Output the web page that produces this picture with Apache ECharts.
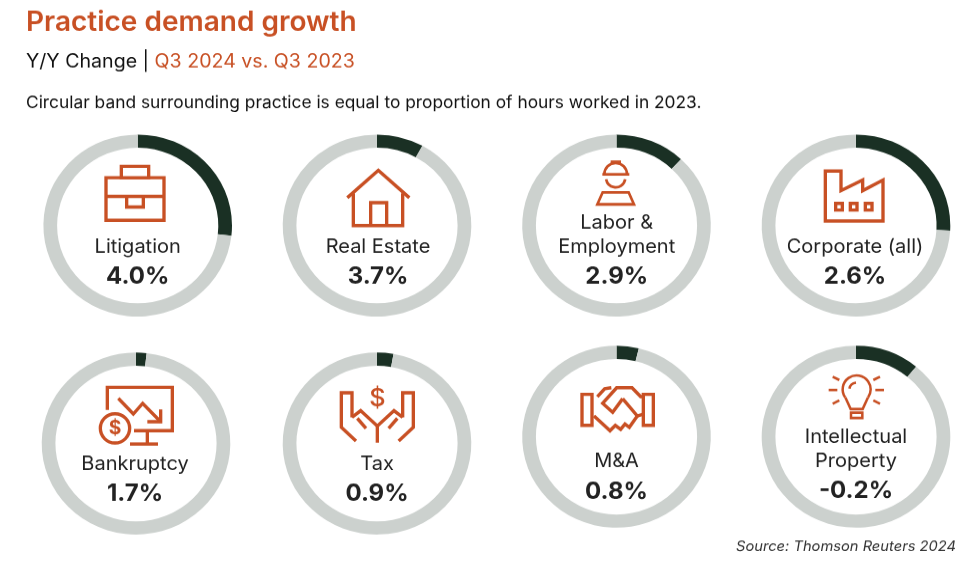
<!DOCTYPE html>
<html>
<head>
<meta charset="utf-8">
<title>Practice demand growth</title>
<script src="https://cdn.jsdelivr.net/npm/echarts@6/dist/echarts.min.js"></script>
<style>
  html, body { margin: 0; padding: 0; background: #fff; overflow: hidden; }
  /* the reference is slightly squashed vertically, rings are wider than tall */
  #chart { width: 974px; height: 582px; transform: scaleY(0.965); transform-origin: 0 0; }
</style>
</head>
<body>
<div id="chart"></div>
<script>
const practices = ['Litigation', 'Real Estate', 'Labor &\nEmployment', 'Corporate (all)', 'Bankruptcy', 'Tax', 'M&A', 'Intellectual\nProperty'];
// share of 2023 hours, read from the arc lengths
const hoursShare = [26.8, 8, 12, 25.9, 1.8, 2.8, 3.8, 11];
const growthLabels = ['4.0%', '3.7%', '2.9%', '2.6%', '1.7%', '0.9%', '0.8%', '-0.2%'];

const SQUASH = 0.965;
const ORANGE = '#c85024';
const DARK = '#1a3024';
const BAND = '#ccd1ce';
const INK = '#222222';
const FONT = 'Inter';
const py = (y) => y / SQUASH; // page y to chart y

const centers = [
  [137.7, 225.5], [377, 225.5], [616.5, 225.5], [856, 225.5],
  [136, 443.5], [377, 443.5], [616.5, 436.7], [856, 436.7]
];
// page y of the name line(s) and of the value
const nameY = [247, 247, 246.7, 247, 464.3, 464.3, 461, 461];
const valueY = [276.7, 276.7, 276.7, 276.7, 494.3, 494.3, 491.7, 491];
const textX = [137.7, 378, 616.7, 855, 135, 377, 616.5, 856];

// icon helpers, coordinates are in 3x space and the group scales them down
const line = (pts) => ({ type: 'polyline', shape: { points: pts }, style: { stroke: ORANGE, lineWidth: 10, fill: null } });
const box = (x, y, w, h) => ({ type: 'rect', shape: { x, y, width: w, height: h }, style: { stroke: ORANGE, lineWidth: 10, fill: '#fff' } });
const ring = (cx, cy, r) => ({ type: 'circle', shape: { cx, cy, r }, style: { stroke: ORANGE, lineWidth: 10, fill: '#fff' } });
const curve = (cx, cy, r, a, b) => ({
  type: 'arc',
  shape: { cx, cy, r, startAngle: a * Math.PI / 180, endAngle: b * Math.PI / 180, clockwise: true },
  style: { stroke: ORANGE, lineWidth: 10, fill: null }
});
const dollar = (x, y, size, weight) => ({
  type: 'text', x, y,
  style: { text: '$', fill: ORANGE, font: `${weight} ${size}px ${FONT}`, align: 'center', verticalAlign: 'middle' }
});

const icons = [
  { x: 20, y: 125, parts: [
    box(258, 158, 174, 128), box(304, 124, 82, 34),
    line([[258, 214], [432, 214]]),
    line([[320, 214], [320, 246], [370, 246], [370, 214]])
  ] },
  { x: 270, y: 125, parts: [
    line([[232, 218], [325, 136], [418, 218]]),
    line([[250, 205], [250, 302], [398, 302], [398, 205]]),
    line([[302, 302], [302, 233], [350, 233], [350, 302]])
  ] },
  { x: 510, y: 125, width: 8, parts: [
    curve(317, 148, 34, 180, 360),
    line([[277, 148], [358, 148]]),
    line([[306, 118], [306, 110], [329, 110], [329, 118]]),
    curve(317, 158, 29, 10, 170),
    { type: 'polygon', shape: { points: [[262, 238], [278, 202], [356, 202], [372, 238]] }, style: { stroke: ORANGE, lineWidth: 9, fill: '#fff' } }
  ] },
  { x: 750, y: 125, parts: [
    { type: 'polygon', shape: { points: [[226, 288], [226, 138], [273, 138], [273, 197], [338, 165], [338, 197], [399, 165], [399, 288]] }, style: { stroke: ORANGE, lineWidth: 10, fill: '#fff' } },
    box(257, 235, 20, 20), box(301, 235, 20, 20), box(346, 235, 20, 20)
  ] },
  { x: 30, y: 340, parts: [
    line([[232, 210], [232, 142], [427, 142], [427, 272], [312, 272]]),
    line([[352, 272], [352, 312]]),
    line([[300, 312], [384, 312]]),
    line([[265, 175], [310, 222], [338, 190], [392, 245]]),
    line([[392, 208], [392, 245], [352, 245]]),
    ring(255, 265, 44),
    dollar(255, 266, 58, 700)
  ] },
  { x: 270, y: 340, parts: [
    line([[258, 303], [214, 262], [214, 158], [246, 158], [246, 232]]),
    line([[386, 303], [430, 262], [430, 158], [398, 158], [398, 232]]),
    line([[246, 232], [272, 212], [322, 258], [372, 212], [398, 232]]),
    line([[262, 235], [288, 265]]),
    line([[382, 235], [356, 265]]),
    line([[322, 258], [322, 308]]),
    dollar(322, 176, 76, 500)
  ] },
  { x: 510, y: 340, parts: [
    box(216, 163, 30, 93), box(400, 163, 30, 93),
    line([[262, 170], [284, 146], [304, 143]]),
    line([[338, 176], [308, 217], [278, 190], [320, 143], [366, 143], [392, 170], [400, 170]]),
    line([[338, 176], [382, 228], [400, 222]]),
    line([[252, 228], [300, 272], [316, 256], [332, 268], [345, 252], [358, 262], [382, 228]])
  ] },
  { x: 750, y: 340, width: 7.5, parts: [
    curve(320, 148, 42, 145, 35),
    line([[286, 172], [302, 207], [338, 207], [354, 172]]),
    curve(320, 150, 22, 190, 265),
    box(303, 218, 34, 16),
    line([[236, 150], [262, 150]]), line([[248, 110], [268, 120]]), line([[248, 191], [268, 181]]),
    line([[376, 150], [402, 150]]), line([[370, 120], [390, 110]]), line([[370, 181], [390, 191]])
  ] }
];

const series = practices.map((name, i) => ({
  type: 'pie',
  name,
  center: [centers[i][0], py(centers[i][1])],
  radius: [80.6, 94.3],
  startAngle: 90,
  clockwise: true,
  silent: true,
  animation: false,
  label: { show: false },
  labelLine: { show: false },
  emphasis: { disabled: true },
  data: [
    { value: hoursShare[i], itemStyle: { color: DARK } },
    { value: 100 - hoursShare[i], itemStyle: { color: BAND } }
  ]
}));

const labelEls = [];
practices.forEach((name, i) => {
  const rows = name.split('\n');
  rows.forEach((row, k) => {
    labelEls.push({
      type: 'text',
      x: textX[i],
      y: py(nameY[i] - (rows.length - 1 - k) * 23.5),
      style: { text: row, fill: INK, font: `400 20px ${FONT}`, align: 'center', verticalAlign: 'middle' }
    });
  });
  labelEls.push({
    type: 'text',
    x: textX[i],
    y: py(valueY[i]),
    style: { text: growthLabels[i], fill: INK, font: `700 24px ${FONT}`, align: 'center', verticalAlign: 'middle' }
  });
});

const iconEls = icons.map((ic) => {
  if (ic.width) ic.parts.forEach((p) => { p.style.lineWidth = ic.width; });
  return { type: 'group', x: ic.x, y: py(ic.y), scaleX: 1 / 3, scaleY: 1 / 3 / SQUASH, children: ic.parts };
});

const chart = echarts.init(document.getElementById('chart'), null, { renderer: 'canvas' });
chart.setOption({
  animation: false,
  backgroundColor: '#fff',
  title: [
    { text: 'Practice demand growth', left: 21, top: 4.8, textStyle: { color: ORANGE, fontFamily: FONT, fontSize: 28, fontWeight: 600 } },
    {
      text: '{a|Y/Y Change | }{b|Q3 2024 vs. Q3 2023}',
      left: 21, top: 49.5,
      textStyle: {
        rich: {
          a: { color: '#111', fontFamily: FONT, fontSize: 19.6, fontWeight: 400 },
          b: { color: ORANGE, fontFamily: FONT, fontSize: 19.6, fontWeight: 400 }
        }
      }
    },
    { text: 'Circular band surrounding practice is equal to proportion of hours worked in 2023.', left: 21, top: 93, textStyle: { color: '#111', fontFamily: FONT, fontSize: 17.35, fontWeight: 400 } },
    { text: 'Source: Thomson Reuters 2024', right: 13, top: 554.5, textStyle: { color: '#333', fontFamily: FONT, fontSize: 14.7, fontStyle: 'italic', fontWeight: 400 } }
  ],
  series,
  graphic: iconEls.concat(labelEls)
});
</script>
</body>
</html>
